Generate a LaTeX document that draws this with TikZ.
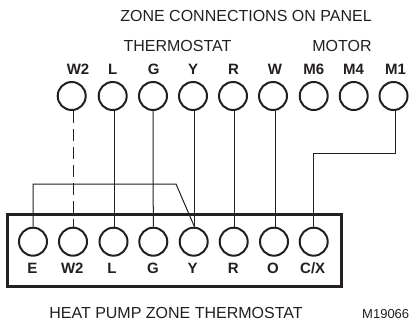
\documentclass[tikz,border=0pt]{standalone}
\usepackage{fontspec}
\setmainfont{Liberation Sans}
\definecolor{ink}{HTML}{231F20}
\tikzset{
  term/.style={circle,draw=ink,line width=2pt,minimum size=28pt,inner sep=0pt},
  wire/.style={draw=ink,line width=1pt},
  dashwire/.style={wire,dash pattern=on 12pt off 6pt},
  pin/.style={font=\bfseries\fontsize{15}{15}\selectfont,text=ink,inner sep=0pt,anchor=base},
  captext/.style={font=\fontsize{16}{16}\selectfont,text=ink,inner sep=0pt,anchor=base}
}
\begin{document}
\begin{tikzpicture}[x=1pt,y=-1pt]
\useasboundingbox (0,0) rectangle (409,322);
\node[draw=ink,line width=3pt,minimum width=334pt,minimum height=72pt,inner sep=0pt] (box) at (174.8,250.8) {};
% panel terminals
\foreach \n/\x in {W/71.7,L/112.7,G/153,Y/193,R/233,Wh/273,Ms/313.7,Mf/353.7,Mo/393.5}
  \node[term] (t\n) at (\x,96) {};
% thermostat terminals
\foreach \n/\x in {E/33,W/73,L/113.5,G/153.3,Y/193.7,R/233.7,O/274,C/313.7}
  \node[term] (b\n) at (\x,241.7) {};
% labels
\node[captext] (title) at (246,21) {ZONE CONNECTIONS ON PANEL};
\node[captext] (thermo) at (177.5,51.7) {THERMOSTAT};
\node[captext] (motor) at (342,51.7) {MOTOR};
\foreach \n/\x/\t in {a/78/W2,b/112.7/L,c/153.7/G,d/193/Y,e/233.5/R,f/275/W,g/313.7/M6,h/353.5/M4,i/395.5/M1}
  \node[pin] (l\n) at (\x,74) {\t};
\foreach \n/\x/\t in {j/32.3/E,k/72.3/W2,m/112/L,n/153/G,o/192.7/Y,p/233.3/R,q/273/O,r/312.7/{C/X}}
  \node[pin] (l\n) at (\x,273.7) {\t};
\node[captext] (foot) at (176,318.3) {HEAT PUMP ZONE THERMOSTAT};
\node[font=\fontsize{13}{13}\selectfont,text=ink,inner sep=0pt,anchor=base] (code) at (385.7,318) {M19066};
% wires
\draw[dashwire] ([xshift=1.3pt]tW.south) -- (bW.north);
\draw[wire] ([xshift=2pt]tL.south) -- ([xshift=1.2pt]bL.north);
\draw[wire] (tG.south) -- (bG.north);
\draw[wire] ([xshift=1.5pt]tY.south) -- ([xshift=0.8pt]bY.north);
\draw[wire] ([xshift=1pt]tR.south) -- ([xshift=0.3pt]bR.north);
\draw[wire] ([xshift=2pt]tWh.south) -- ([xshift=1pt]bO.north);
\coordinate (k1) at (395,153.5);
\draw[wire] ([xshift=1.5pt]tMo.south) -- (k1) -- (bC.north |- k1) -- (bC.north);
\coordinate (k2) at (33,184);
\coordinate (k3) at (176,184);
\draw[wire] (bE.north) -- (k2) -- (k3) -- ([xshift=0.3pt,yshift=1pt]bY.north);
\end{tikzpicture}
\end{document}
